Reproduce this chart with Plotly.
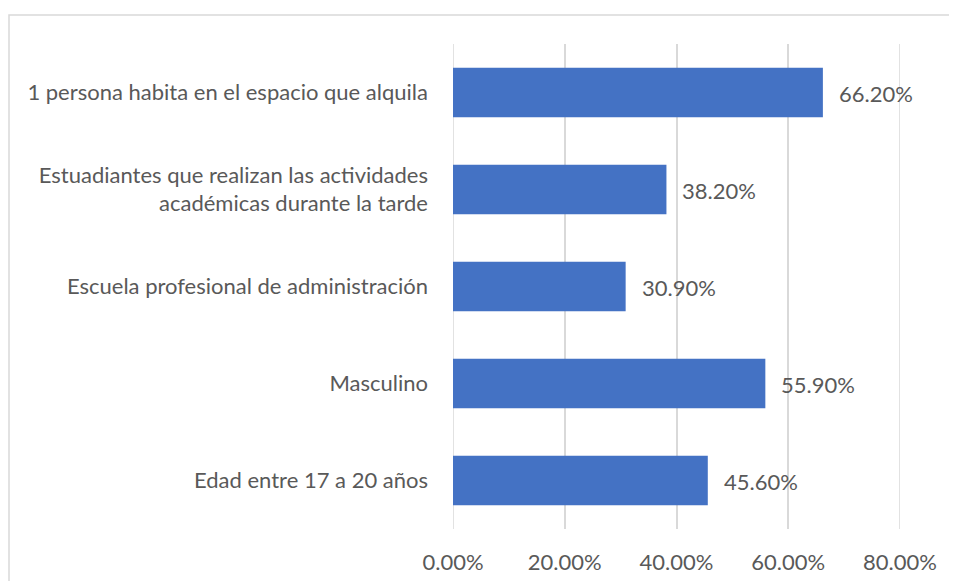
import plotly.graph_objects as go

categories = [
    "1 persona habita en el espacio que alquila",
    "Estuadiantes que realizan las actividades<br>académicas durante la tarde",
    "Escuela profesional de administración",
    "Masculino",
    "Edad entre 17 a 20 años",
]
values = [66.2, 38.2, 30.9, 55.9, 45.6]
x_ticks = [0, 20, 40, 60, 80]
x_tick_labels = ["0.00%", "20.00%", "40.00%", "60.00%", "80.00%"]

FONT = "Lato"
GRAY = "#595959"
GRID = "#d9d9d9"
FS = 22

fig = go.Figure()
fig.add_trace(go.Bar(
    x=values, y=categories, orientation="h",
    marker=dict(color="#4472C4", line=dict(width=0)),
    width=0.51, hoverinfo="skip",
))

for c, v in zip(categories, values):
    fig.add_annotation(x=v, y=c, xref="x", yref="y", text=f"{v:.2f}%",
                       showarrow=False, xanchor="left", xshift=14, yshift=-1,
                       font=dict(family=FONT, size=FS, color=GRAY))

# edge gridlines (plotly hides gridlines on the plot boundary)
for t in (x_ticks[0], x_ticks[-1]):
    fig.add_shape(type="line", xref="x", yref="paper", x0=t, x1=t, y0=0, y1=1,
                  line=dict(color=GRID, width=1.5), layer="below")

# page body has an 8px margin, so the figure is offset by 8px
W, H = 949, 573
L, R, T, B = 445, 57, 36, 52
pw, ph = W - L - R, H - T - B
def px(x): return (x - L) / pw
def py(y): return (H - B - y) / ph

fig.add_shape(type="rect", xref="paper", yref="paper",
              x0=px(1), x1=px(965), y0=py(7), y1=py(590),
              line=dict(color=GRID, width=1.5), fillcolor="rgba(0,0,0,0)", layer="below")

fig.update_layout(
    width=W, height=H,
    margin=dict(l=L, r=R, t=T, b=B, pad=0),
    paper_bgcolor="white", plot_bgcolor="white",
    showlegend=False,
    font=dict(family=FONT, size=FS, color=GRAY),
    xaxis=dict(range=[x_ticks[0], x_ticks[-1]], tickvals=x_ticks, ticktext=x_tick_labels,
               showgrid=True, gridcolor=GRID, gridwidth=1.5,
               zeroline=False, showline=False, ticks="",
               ticklabelstandoff=18, automargin=False,
               tickfont=dict(family=FONT, size=FS, color=GRAY)),
    yaxis=dict(autorange="reversed", showgrid=False, zeroline=False,
               showline=False, ticks="", ticklabelstandoff=24, automargin=False,
               tickfont=dict(family=FONT, size=FS, color=GRAY)),
    bargap=0.5,
)

fig.write_html("out.html")
